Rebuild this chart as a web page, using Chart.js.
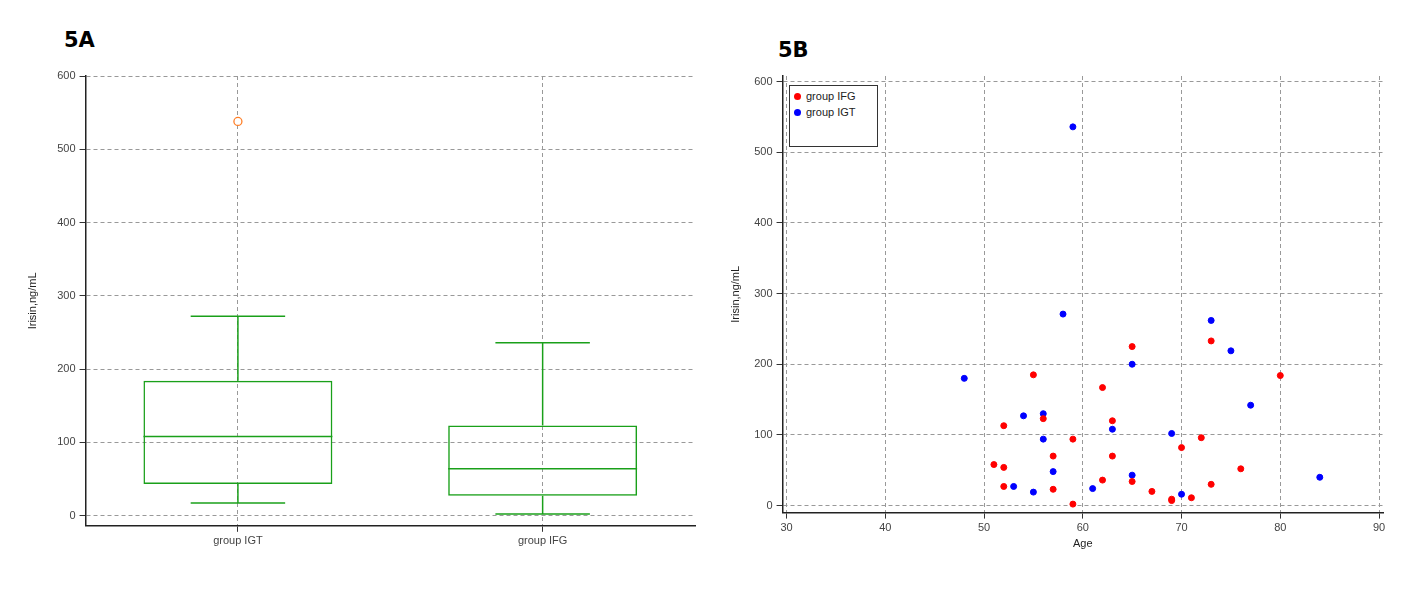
<!DOCTYPE html>
<html><head><meta charset="utf-8">
<script src="https://cdn.jsdelivr.net/npm/chart.js@4"></script>
<style>
body{margin:0;background:#fff;font-family:"Liberation Sans",Arial,sans-serif;width:1427px;height:589px;position:relative;overflow:hidden}
.ttl{position:absolute;font:bold 21px "DejaVu Sans",sans-serif;color:#000}
#leg{position:absolute;left:789px;top:85px;width:89px;height:62px;border:1px solid #333;background:#fff;font-size:11px;color:#222;box-sizing:border-box;padding:2px 0 0 4px;line-height:16px}
#leg span{display:inline-block;width:7px;height:7px;border-radius:50%;margin-right:5px}
</style></head><body>
<div class="ttl" style="left:64px;top:28px">5A</div>
<div class="ttl" style="left:778px;top:38px">5B</div>
<div style="position:absolute;left:0;top:0"><canvas id="a" width="710" height="589"></canvas></div>
<div style="position:absolute;left:710px;top:0"><canvas id="b" width="717" height="589"></canvas></div>
<div id="leg"><div><span style="background:#f00"></span>group IFG</div><div><span style="background:#00f"></span>group IGT</div></div>
<script>
const groups = ['group IGT','group IFG'];
const whiskerLow = [17, 2];
const q1 = [43, 27];
const median = [108, 64];
const q3 = [184, 123];
const whiskerHigh = [272, 236];
const outliers = [538, null];

const ifgAge = [55,52,56,59,57,51,52,52,57,59,62,63,63,65,62,65,67,69,69,71,70,72,73,73,76,80];
const ifgVal = [185,113,123,94,70,58,54,27,23,2,167,120,70,225,36,34,20,9,7,11,82,96,233,30,52,184];
const igtAge = [48,59,58,54,56,56,53,55,57,61,63,65,65,69,70,73,75,77,84];
const igtVal = [180,536,271,127,130,94,27,19,48,24,108,200,43,102,16,262,219,142,40];

const yTicks = [0,100,200,300,400,500,600];
const xTicksB = [30,40,50,60,70,80,90];
const font = {family:'"Liberation Sans",Arial,sans-serif', size:11};
const grid = {color:'#999', lineWidth:1, drawTicks:true, tickLength:6, tickColor:'#333'};
const border = {color:'#222', width:1.5, dash:[4,3]};

const boxPlugin = {
  id:'box',
  afterDatasetsDraw(chart){
    const {ctx, scales:{x,y}} = chart;
    const meta = chart.getDatasetMeta(0);
    ctx.save(); ctx.strokeStyle='#1aa01a'; ctx.lineWidth=1.5;
    groups.forEach((g,i)=>{
      const bar = meta.data[i]; const cx = x.getPixelForValue(i);
      const hw = bar.width/2, cw = hw*0.5;
      const line=(x1,y1,x2,y2)=>{ctx.beginPath();ctx.moveTo(x1,y1);ctx.lineTo(x2,y2);ctx.stroke();};
      line(cx-hw, y.getPixelForValue(median[i]), cx+hw, y.getPixelForValue(median[i]));
      line(cx, y.getPixelForValue(q3[i]), cx, y.getPixelForValue(whiskerHigh[i]));
      line(cx, y.getPixelForValue(q1[i]), cx, y.getPixelForValue(whiskerLow[i]));
      line(cx-cw, y.getPixelForValue(whiskerHigh[i]), cx+cw, y.getPixelForValue(whiskerHigh[i]));
      line(cx-cw, y.getPixelForValue(whiskerLow[i]), cx+cw, y.getPixelForValue(whiskerLow[i]));
    });
    ctx.restore();
  }
};

new Chart(document.getElementById('a'), {
  type:'bar',
  data:{labels:groups, datasets:[
    {data: groups.map((g,i)=>[q1[i],q3[i]]), backgroundColor:'rgba(0,0,0,0)', borderColor:'#1aa01a', borderWidth:1.5, borderSkipped:false, barPercentage:0.62, categoryPercentage:1},
    {type:'line', data: outliers, showLine:false, pointStyle:'circle', pointRadius:4, borderColor:'#ff7f27', backgroundColor:'#fff', borderWidth:1.3}
  ]},
  options:{responsive:false, animation:false,
    layout:{padding:{left:22,right:15,top:76,bottom:38}},
    plugins:{legend:{display:false}, tooltip:{enabled:false}},
    scales:{
      x:{grid:{...grid, offset:false}, border, ticks:{font, color:'#444'}},
      y:{min:-14, max:600, afterBuildTicks:s=>{s.ticks=yTicks.map(v=>({value:v}))}, grid, border,
         ticks:{font, color:'#444', padding:4},
         title:{display:true, text:'Irisin,ng/mL', font, color:'#222', padding:{bottom:14}}}
    }
  },
  plugins:[boxPlugin]
});

const pt = (ages, vals)=>ages.map((a,i)=>({x:a, y:vals[i]}));
new Chart(document.getElementById('b'), {
  type:'scatter',
  data:{datasets:[
    {label:'group IFG', data:pt(ifgAge, ifgVal), backgroundColor:'#f00', borderColor:'#f00', pointRadius:3},
    {label:'group IGT', data:pt(igtAge, igtVal), backgroundColor:'#00f', borderColor:'#00f', pointRadius:3}
  ]},
  options:{responsive:false, animation:false,
    layout:{padding:{left:15,right:44,top:76,bottom:34}},
    plugins:{legend:{display:false}, tooltip:{enabled:false}},
    scales:{
      x:{type:'linear', min:29.6, max:90.4, afterBuildTicks:s=>{s.ticks=xTicksB.map(v=>({value:v}))}, grid, border,
         ticks:{font, color:'#444'}, title:{display:true, text:'Age', font, color:'#222', padding:{top:0}}},
      y:{min:-10, max:608, afterBuildTicks:s=>{s.ticks=yTicks.map(v=>({value:v}))}, grid, border,
         ticks:{font, color:'#444', padding:4},
         title:{display:true, text:'Irisin,ng/mL', font, color:'#222', padding:{bottom:8}}}
    }
  }
});
</script></body></html>
